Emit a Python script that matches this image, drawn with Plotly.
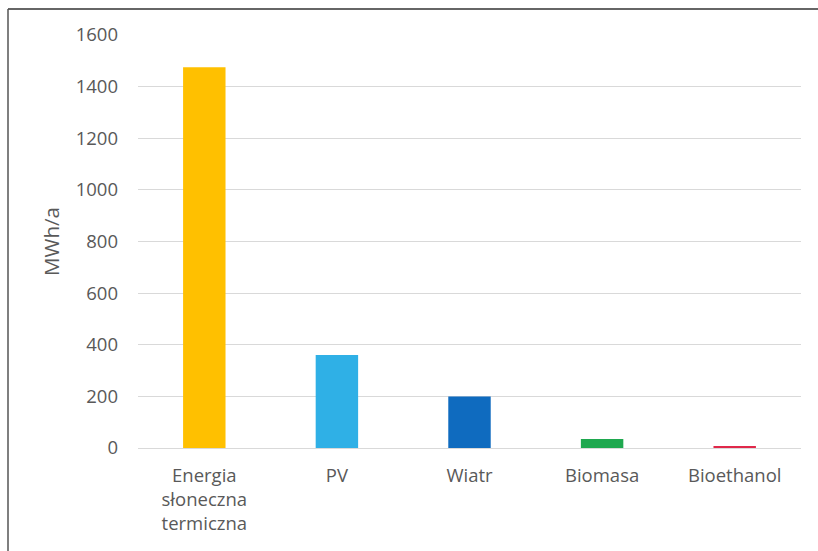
import plotly.graph_objects as go

# Annual energy yield per renewable source
categories = ["Energia<br>słoneczna<br>termiczna", "PV", "Wiatr", "Biomasa", "Bioethanol"]
values_mwh = [1475, 360, 200, 35, 6]
bar_colors = ["#FFC000", "#2FB0E6", "#0F6BBF", "#1FA84F", "#E0284A"]
y_ticks = [0, 200, 400, 600, 800, 1000, 1200, 1400, 1600]

W, H = 818, 551
M_L, M_R, M_T, M_B = 138, 17, 35, 103
pw, ph = W - M_L - M_R, H - M_T - M_B

fig = go.Figure(
    go.Bar(
        x=categories,
        y=values_mwh,
        marker=dict(color=bar_colors, line=dict(width=0)),
        width=0.32,
    )
)

text_font = dict(family="Open Sans, Lato, sans-serif", size=18.5, color="#595959")
title_font = dict(family="Open Sans, Lato, sans-serif", size=20.5, color="#595959")

fig.update_layout(
    width=W,
    height=H,
    margin=dict(l=M_L, r=M_R, t=M_T, b=M_B, pad=0),
    paper_bgcolor="white",
    plot_bgcolor="white",
    showlegend=False,
    font=text_font,
    xaxis=dict(
        showgrid=False,
        showline=False,
        zeroline=False,
        ticks="",
        tickfont=text_font,
        ticklabelstandoff=14,
    ),
    yaxis=dict(
        range=[0, 1600],
        tickvals=y_ticks,
        showgrid=True,
        gridcolor="#D9D9D9",
        gridwidth=1.3,
        zeroline=True,
        zerolinecolor="#D9D9D9",
        zerolinewidth=1.3,
        showline=False,
        ticks="",
        tickfont=text_font,
        ticklabelstandoff=19,
        title=dict(text="MWh/a", font=title_font, standoff=10),
    ),
)

# frame lines along the top and left edges of the figure
fig.add_shape(type="line", xref="paper", yref="paper",
              x0=(8 - M_L) / pw, x1=(W - M_L) / pw,
              y0=(H - M_B - 9) / ph, y1=(H - M_B - 9) / ph,
              line=dict(color="#333333", width=1.5))
fig.add_shape(type="line", xref="paper", yref="paper",
              x0=(8 - M_L) / pw, x1=(8 - M_L) / pw,
              y0=(H - M_B - 9) / ph, y1=-(M_B + 5) / ph,
              line=dict(color="#555555", width=1.5))

fig.write_html("out.html")
